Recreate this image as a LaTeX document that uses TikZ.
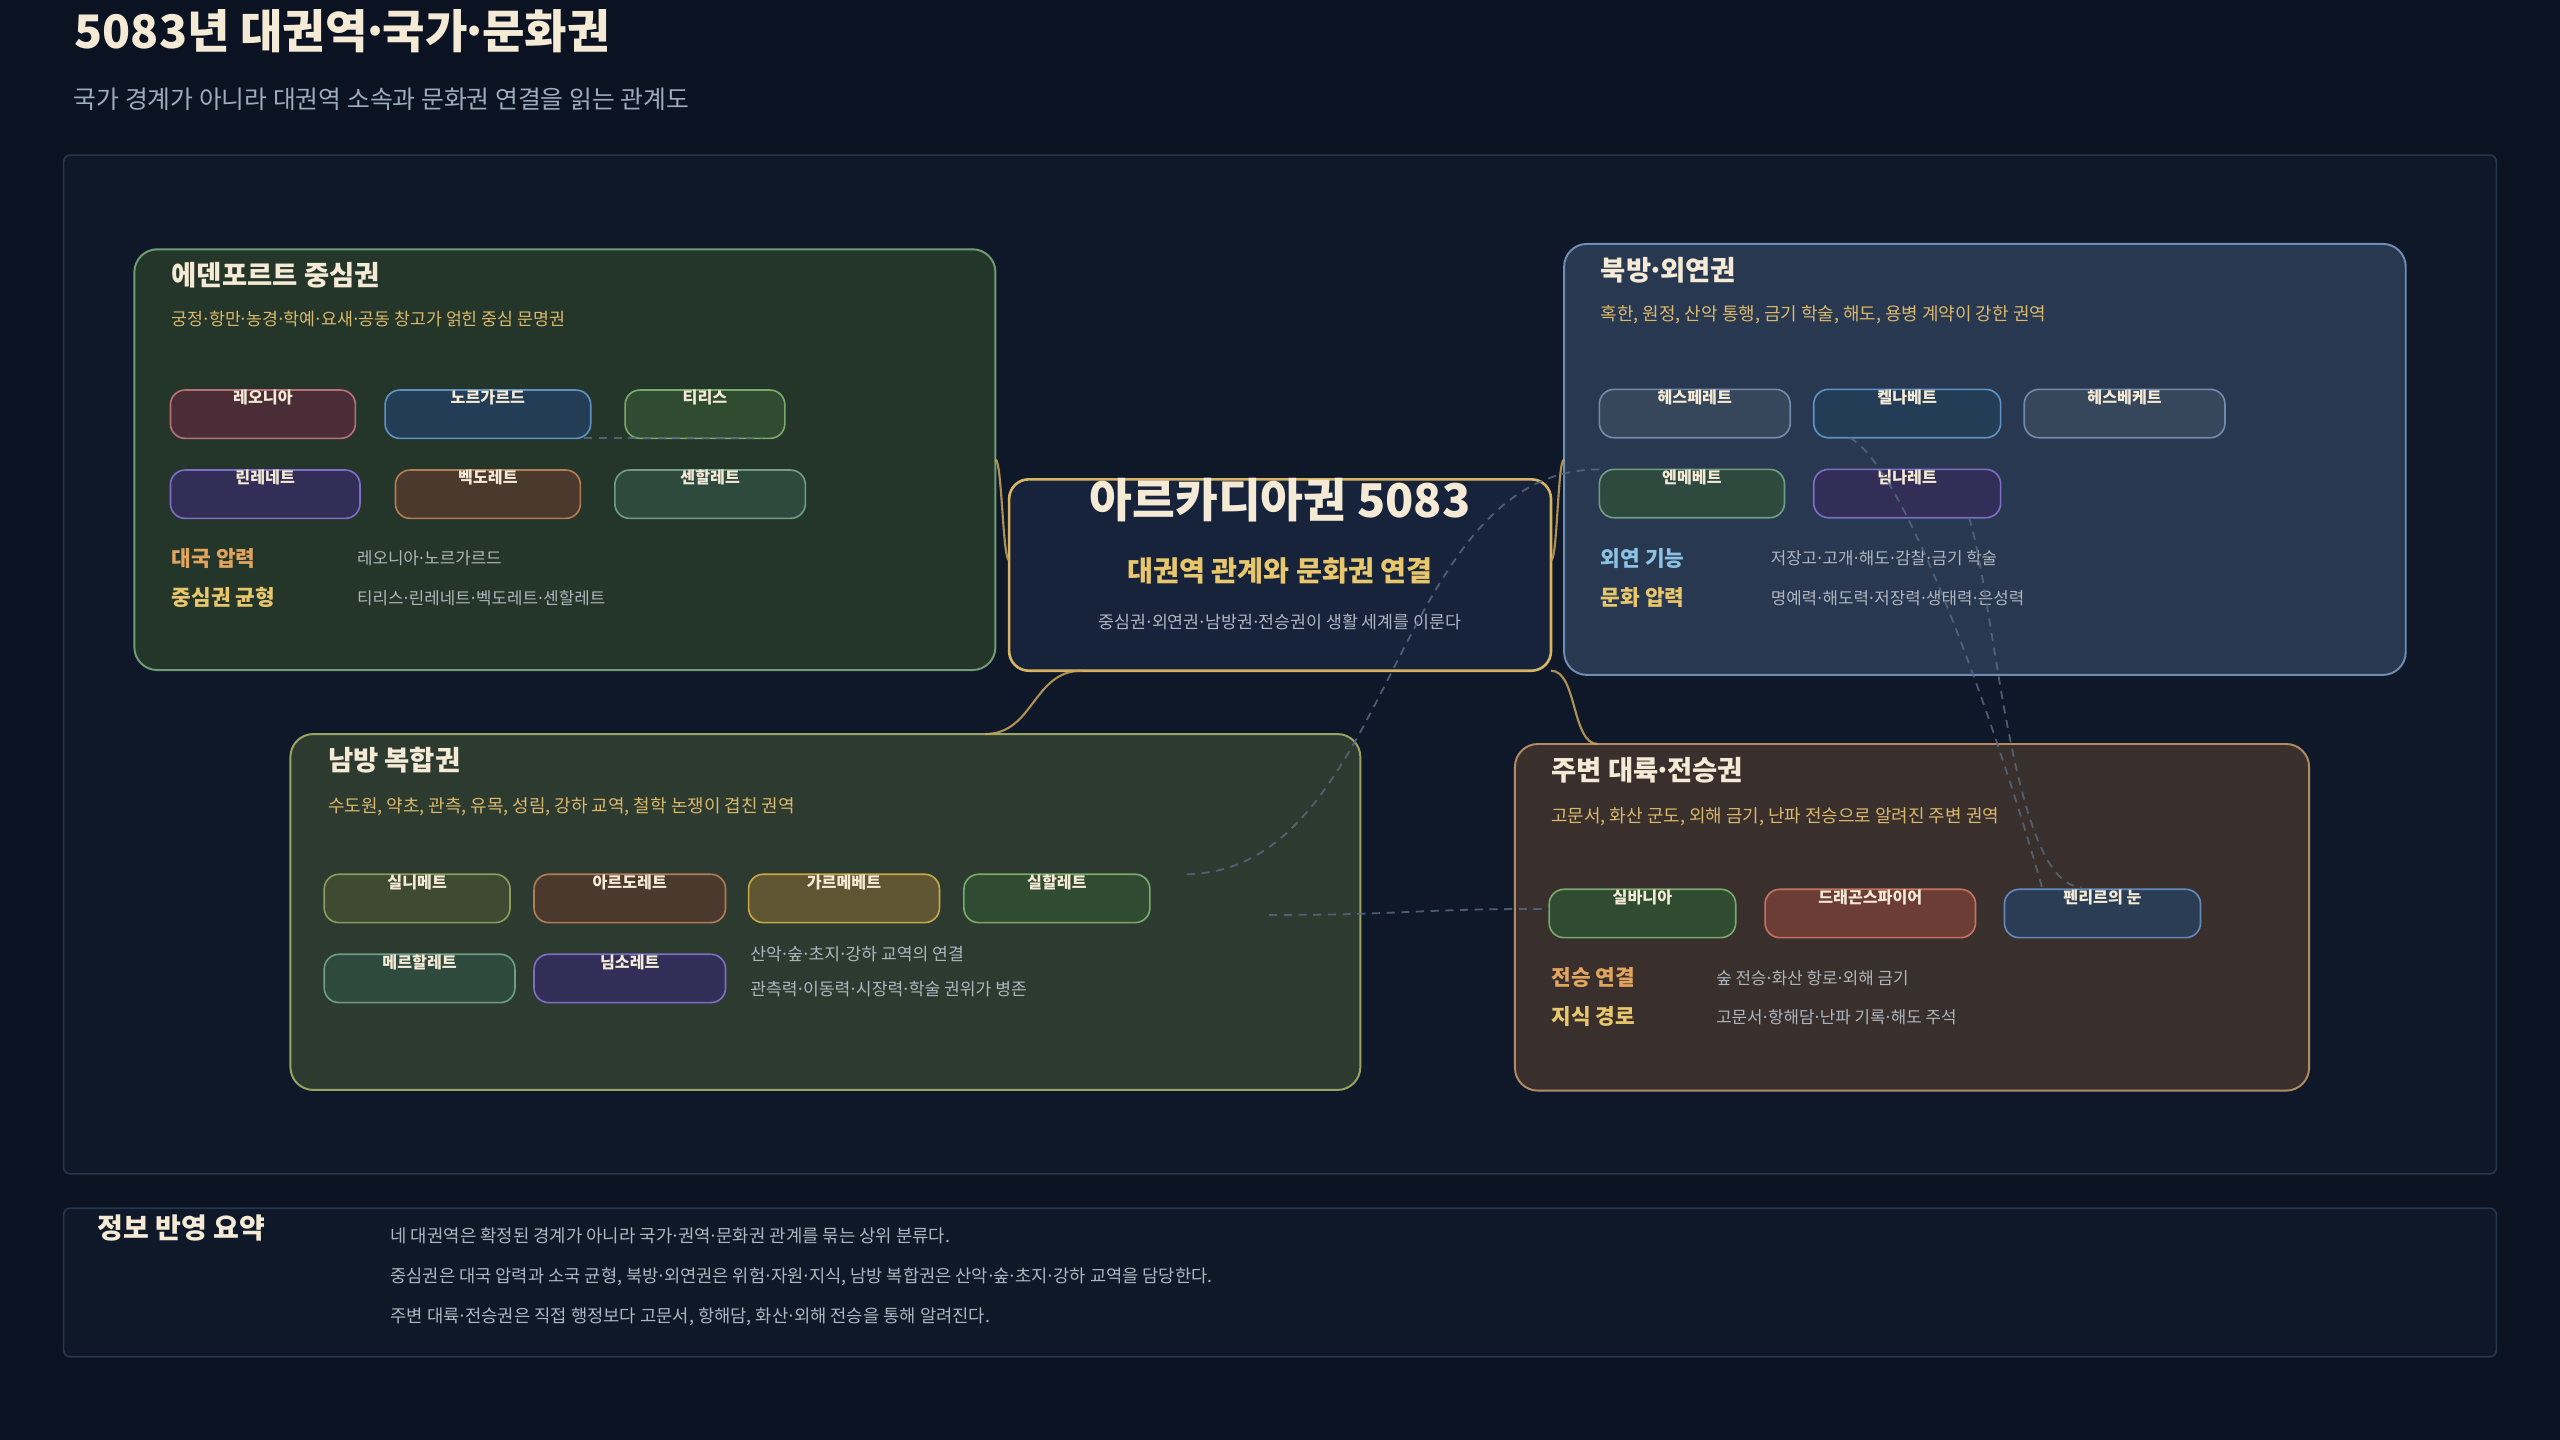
\documentclass[tikz,border=0pt]{standalone}
\usepackage{fontspec}
\usepackage{newunicodechar}
\setmainfont{Noto Sans CJK KR}
\newunicodechar{·}{\makebox[0.32em][c]{\char"B7}}
\usetikzlibrary{calc}

\definecolor{bgc}{HTML}{0B1322}
\definecolor{panelF}{HTML}{0E1829}
\definecolor{panelD}{HTML}{24374F}
\definecolor{cream}{HTML}{F4EAD5}
\definecolor{subgrey}{HTML}{9DABBF}
\definecolor{blurbgold}{HTML}{D9B86B}
\definecolor{valgrey}{HTML}{AEB5BE}
\definecolor{keyorange}{HTML}{E2A560}
\definecolor{keygold}{HTML}{E8C66B}
\definecolor{keyblue}{HTML}{8CC2E4}
\definecolor{linkgold}{HTML}{C9A65A}
\definecolor{tieblue}{HTML}{56687F}
% region colours
\definecolor{edenF}{HTML}{243629}\definecolor{edenD}{HTML}{6F9C74}
\definecolor{northF}{HTML}{283850}\definecolor{northD}{HTML}{6D8DB2}
\definecolor{southF}{HTML}{2D3A30}\definecolor{southD}{HTML}{9AA364}
\definecolor{eastF}{HTML}{392F2C}\definecolor{eastD}{HTML}{B28B62}
\definecolor{coreF}{HTML}{16233B}\definecolor{coreD}{HTML}{D6B461}
% chip colours
\definecolor{roseF}{HTML}{4A2D36}\definecolor{roseD}{HTML}{B86F78}
\definecolor{steelF}{HTML}{243D57}\definecolor{steelD}{HTML}{5F91C2}
\definecolor{mossF}{HTML}{2F4B31}\definecolor{mossD}{HTML}{7BA86B}
\definecolor{irisF}{HTML}{322E57}\definecolor{irisD}{HTML}{7D6DC4}
\definecolor{clayF}{HTML}{4A392C}\definecolor{clayD}{HTML}{B27C55}
\definecolor{pineF}{HTML}{2E4A3F}\definecolor{pineD}{HTML}{6F9D84}
\definecolor{slateF}{HTML}{37475B}\definecolor{slateD}{HTML}{7189AA}
\definecolor{oliveF}{HTML}{3E4A31}\definecolor{oliveD}{HTML}{8C9C5C}
\definecolor{ochreF}{HTML}{5F5532}\definecolor{ochreD}{HTML}{C6A845}
\definecolor{rustF}{HTML}{6B3D35}\definecolor{rustD}{HTML}{C47262}
\definecolor{navyF}{HTML}{2A3D55}\definecolor{navyD}{HTML}{6389B8}

\newcommand\fsz[1]{\fontsize{#1}{#1}\selectfont}

\tikzset{
  regbox/.style={rounded corners=14pt, line width=1.2pt, inner sep=0pt, outer sep=0pt, anchor=north west},
  chip/.style={rounded corners=9pt, line width=1pt, inner sep=0pt, outer sep=0pt, anchor=north west, minimum height=29.6pt},
  chiplbl/.style={text=cream, font=\fsz{9.9}\bfseries, inner sep=0pt, anchor=base},
  headtxt/.style={text=cream, font=\fsz{16.8}\bfseries, inner sep=0pt, anchor=base west},
  blurb/.style={text=blurbgold, font=\fsz{11}, inner sep=0pt, anchor=base west},
  keytxt/.style={font=\fsz{13.1}\bfseries, inner sep=0pt, anchor=base west},
  valtxt/.style={text=valgrey, font=\fsz{10.3}, inner sep=0pt, anchor=base west},
  link/.style={draw=linkgold, line width=1.3pt, draw opacity=0.85},
  tie/.style={draw=tieblue, line width=1.1pt, dash pattern=on 5pt off 4pt, draw opacity=0.85},
  rosechip/.style={fill=roseF, draw=roseD},
  steelchip/.style={fill=steelF, draw=steelD},
  mosschip/.style={fill=mossF, draw=mossD},
  irischip/.style={fill=irisF, draw=irisD},
  claychip/.style={fill=clayF, draw=clayD},
  pinechip/.style={fill=pineF, draw=pineD},
  slatechip/.style={fill=slateF, draw=slateD},
  olivechip/.style={fill=oliveF, draw=oliveD},
  ochrechip/.style={fill=ochreF, draw=ochreD},
  rustchip/.style={fill=rustF, draw=rustD},
  navychip/.style={fill=navyF, draw=navyD},
}

\begin{document}
\begin{tikzpicture}[x=1pt, y=-1pt]
\useasboundingbox (0,0) rectangle (1568,882);
\fill[bgc] (0,0) rectangle (1568,882);

% heading
\node[text=cream, font=\fsz{28.3}\bfseries, inner sep=0pt, anchor=base west] (title) at (45.5,30) {5083년 대권역·국가·문화권};
\node[text=subgrey, font=\fsz{15.2}, inner sep=0pt, anchor=base west] (subtitle) at (45,66.3) {국가 경계가 아니라 대권역 소속과 문화권 연결을 읽는 관계도};

% panels
\node[fill=panelF, draw=panelD, line width=1pt, rounded corners=4pt, inner sep=0pt, outer sep=0pt,
  anchor=north west, minimum width=1490pt, minimum height=624pt] (panel) at (39,95) {};
\node[fill=panelF, draw=panelD, line width=1pt, rounded corners=4pt, inner sep=0pt, outer sep=0pt,
  anchor=north west, minimum width=1490pt, minimum height=91pt] (sumpanel) at (39,740) {};

% region boxes
\node[regbox, fill=edenF, draw=edenD, minimum width=527.4pt, minimum height=257.7pt] (eden) at (82.3,152.7) {};
\node[regbox, fill=northF, draw=northD, minimum width=515.5pt, minimum height=264pt] (north) at (958,149.4) {};
\node[regbox, fill=southF, draw=southD, minimum width=655.3pt, minimum height=218pt] (south) at (177.9,449.6) {};
\node[regbox, fill=eastF, draw=eastD, minimum width=486.4pt, minimum height=212.3pt] (east) at (927.9,455.7) {};
\node[regbox, fill=coreF, draw=coreD, line width=1.6pt, rounded corners=12pt, minimum width=331.9pt, minimum height=117.2pt] (core) at (618.1,293.6) {};

% gold links from the core
\draw[link] (eden.east) .. controls +(4,0) and +(-4,0) .. ($(core.west)+(0,-9)$);
\draw[link] ($(core.east)+(0,-9)$) .. controls +(4,0) and +(-4,0) .. (north.west);
\draw[link] ($(core.south west)+(44.5,0)$) .. controls +(-30,0) and +(30,0) .. ($(south.north west)+(425.4,0)$);
\draw[link] (core.south east) .. controls +(16,0) and +(-16,0) .. ($(east.north west)+(50.7,0)$);

% core text
\node[text=cream, font=\fsz{28.5}\bfseries, inner sep=0pt, anchor=base] (core-t) at (784,317) {아르카디아권 5083};
\node[text=keygold, font=\fsz{17.3}\bfseries, inner sep=0pt, anchor=base] (core-s) at (784,356) {대권역 관계와 문화권 연결};
\node[text=valgrey, font=\fsz{10.6}, inner sep=0pt, anchor=base] (core-d) at (784,385) {중심권·외연권·남방권·전승권이 생활 세계를 이룬다};

% region text
\node[headtxt] (eden-h) at (105,174.8) {에덴포르트 중심권};
\node[blurb, font=\fsz{10.6}] (eden-d) at (105,199.5) {궁정·항만·농경·학예·요새·공동 창고가 얽힌 중심 문명권};
\node[keytxt, text=keyorange] (eden-k1) at (105,346.8) {대국 압력};
\node[valtxt] (eden-v1) at (218.5,346) {레오니아·노르가르드};
\node[keytxt, text=keygold] (eden-k2) at (105,370.8) {중심권 균형};
\node[valtxt] (eden-v2) at (218.5,370) {티리스·린레네트·벡도레트·센할레트};

\node[headtxt] (north-h) at (980.3,171.8) {북방·외연권};
\node[blurb] (north-d) at (980.3,196.3) {혹한, 원정, 산악 통행, 금기 학술, 해도, 용병 계약이 강한 권역};
\node[keytxt, text=keyblue] (north-k1) at (980.3,346.8) {외연 기능};
\node[valtxt] (north-v1) at (1084.4,346) {저장고·고개·해도·감찰·금기 학술};
\node[keytxt, text=keygold] (north-k2) at (980.3,370.8) {문화 압력};
\node[valtxt] (north-v2) at (1084.4,370) {명예력·해도력·저장력·생태력·은성력};

\node[headtxt] (south-h) at (200.7,471.8) {남방 복합권};
\node[blurb] (south-d) at (200.7,497.5) {수도원, 약초, 관측, 유목, 성림, 강하 교역, 철학 논쟁이 겹친 권역};
\node[valtxt, font=\fsz{10.5}] (south-v1) at (459.4,588) {산악·숲·초지·강하 교역의 연결};
\node[valtxt, font=\fsz{10.5}] (south-v2) at (459.4,609.5) {관측력·이동력·시장력·학술 권위가 병존};

\node[headtxt] (east-h) at (950,477.8) {주변 대륙·전승권};
\node[blurb] (east-d) at (950,503.5) {고문서, 화산 군도, 외해 금기, 난파 전승으로 알려진 주변 권역};
\node[keytxt, text=keyorange] (east-k1) at (950,603.8) {전승 연결};
\node[valtxt] (east-v1) at (1051,603) {숲 전승·화산 항로·외해 금기};
\node[keytxt, text=keygold] (east-k2) at (950,627.8) {지식 경로};
\node[valtxt] (east-v2) at (1051,627) {고문서·항해담·난파 기록·해도 주석};

% chips
\foreach \n/\x/\y/\w/\s/\t in {
  leonia/104.4/238.9/113.3/rosechip/레오니아,
  norgard/235.9/238.9/125.9/steelchip/노르가르드,
  tiris/382.9/238.9/97.8/mosschip/티리스,
  rinrenet/104.4/287.9/116.1/irischip/린레네트,
  vekdoret/242.2/287.9/113.3/claychip/벡도레트,
  senhal/376.6/287.9/116.7/pinechip/센할레트,
  hesper/979.6/238.5/116.9/slatechip/헤스페레트,
  kelna/1110.9/238.5/114.5/steelchip/켈나베트,
  hesbeket/1239.8/238.5/123/slatechip/헤스베케트,
  enme/979.6/287.5/113.4/pinechip/엔메베트,
  nimna/1110.9/287.5/114.5/irischip/님나레트,
  silnimet/198.6/535.5/113.8/olivechip/실니메트,
  ardoret/327.1/535.5/117.3/claychip/아르도레트,
  garmebet/458.5/535.5/116.9/ochrechip/가르메베트,
  silhal/590.4/535.5/113.9/mosschip/실할레트,
  merhal/198.6/584.5/116.8/pinechip/메르할레트,
  nimsoret/327.1/584.5/117.3/irischip/님소레트,
  silvania/948.9/544.7/114.2/mosschip/실바니아,
  dragon/1081.1/544.7/128.9/rustchip/드래곤스파이어,
  fenrir/1227.7/544.7/120.1/navychip/펜리르의 눈}{
  \node[chip, \s, minimum width=\w pt] (\n) at (\x,\y) {};
  \node[chiplbl] (\n-t) at (\x+\w/2,\y+8.5) {\t};
}

% dashed culture ties
\draw[tie] ($(norgard.south east)+(-4,0)$) -- ($(tiris.south east)+(-14,0)$);
\draw[tie] (enme.north west) .. controls +(-128,0) and +(128,0) .. ($(silhal.north east)+(21,0)$);
\draw[tie] ($(silhal.south east)+(73,-4.7)$) .. controls +(86,0) and +(-86,0) .. ($(silvania.west)+(0,-2.8)$);
\draw[tie] ($(kelna.south west)+(22.1,0)$) .. controls +(40,22) and +(-15,-55) .. ($(fenrir.north west)+(23.3,0)$);
\draw[tie] ($(nimna.south east)+(-19.4,0)$) .. controls +(16,50) and +(-43,0) .. ($(fenrir.north west)+(47.3,-1.4)$);

% summary
\node[text=cream, font=\fsz{17.2}\bfseries, inner sep=0pt, anchor=base west] (sum-h) at (59.5,758.5) {정보 반영 요약};
\node[valtxt, font=\fsz{10.9}] (sum-1) at (239,761) {네 대권역은 확정된 경계가 아니라 국가·권역·문화권 관계를 묶는 상위 분류다.};
\node[valtxt, font=\fsz{10.8}] (sum-2) at (239,785.5) {중심권은 대국 압력과 소국 균형, 북방·외연권은 위험·자원·지식, 남방 복합권은 산악·숲·초지·강하 교역을 담당한다.};
\node[valtxt, font=\fsz{10.85}] (sum-3) at (239,810) {주변 대륙·전승권은 직접 행정보다 고문서, 항해담, 화산·외해 전승을 통해 알려진다.};
\end{tikzpicture}
\end{document}
